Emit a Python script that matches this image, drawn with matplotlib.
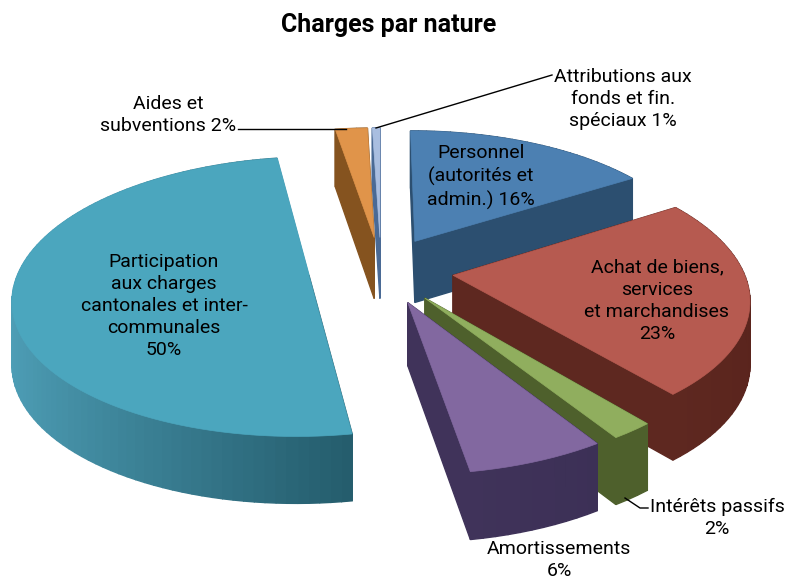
import numpy as np
import matplotlib
matplotlib.use('Agg')
import matplotlib.pyplot as plt
from matplotlib.patches import Polygon
from matplotlib.colors import to_rgb

plt.rcParams['font.family'] = ['Roboto', 'DejaVu Sans']

# slices clockwise from the top, shares
names = ['Personnel', 'Achat', 'Interets', 'Amortissements', 'Participation', 'Aides', 'Attributions']
values = [16, 23, 2, 6.4, 50, 2.1, 0.5]
top_colors = ['#4C80B2', '#B65A50', '#90AE5E', '#8268A0', '#4BA6BE', '#E0944A', '#A9BEE0']
side_left = ['#2C4F70', '#5E2820', '#4E602C', '#40335A', '#4FA0B8', '#85531F', '#4A6A95']
side_right = ['#2C4F70', '#5A241D', '#4E602C', '#3C3056', '#245C6C', '#85531F', '#4A6A95']
draw_order = [6, 5, 0, 4, 1, 2, 3]

# projection of the pie, in pixels
CX, CY = 381, 270
A, B = 290, 135
P = 0.15
DEPTH = 62
EXPLODE = 0.25


def project(x, y, z=0):
    s = 1 / (1 + P * y)
    return CX + A * x * s, CY - B * y * s + z * DEPTH * s ** 0.45


def blend(c1, c2, t):
    c1, c2 = np.array(to_rgb(c1)), np.array(to_rgb(c2))
    return tuple(c1 + (c2 - c1) * t)


fig = plt.figure(figsize=(7.86, 5.79), dpi=100)
ax = fig.add_axes([0, 0, 1, 1])
ax.set_xlim(0, 786)
ax.set_ylim(579, 0)
ax.axis('off')

edges = np.cumsum([0] + values) / sum(values) * 2 * np.pi

for i in draw_order:
    a0, a1 = edges[i], edges[i + 1]
    mid = (a0 + a1) / 2
    ox, oy = EXPLODE * np.sin(mid), EXPLODE * np.cos(mid)
    t = np.linspace(a0, a1, max(4, int(values[i] * 2)))
    rx, ry = ox + np.sin(t), oy + np.cos(t)

    # side faces, far ones first
    faces = []
    for k in range(len(t) - 1):
        quad = [project(rx[k], ry[k]), project(rx[k + 1], ry[k + 1]),
                project(rx[k + 1], ry[k + 1], 1), project(rx[k], ry[k], 1)]
        frac = ((rx[k] + rx[k + 1]) / 2 - rx.min()) / (rx.max() - rx.min())
        faces.append(((ry[k] + ry[k + 1]) / 2, quad, blend(side_left[i], side_right[i], frac)))
    for end in (0, -1):
        quad = [project(ox, oy), project(rx[end], ry[end]),
                project(rx[end], ry[end], 1), project(ox, oy, 1)]
        faces.append(((oy + ry[end]) / 2, quad, side_left[i] if end else side_right[i]))
    faces.sort(key=lambda f: -f[0])
    for _, quad, col in faces:
        ax.add_patch(Polygon(quad, closed=True, fc=col, ec=col, lw=1))

    top = [project(ox, oy)] + [project(x, y) for x, y in zip(rx, ry)]
    ax.add_patch(Polygon(top, closed=True, fc=top_colors[i], ec=top_colors[i], lw=0.5))

# leader lines
ax.plot([238, 346], [129, 129], color='black', lw=1)
ax.plot([552, 376], [75, 128], color='black', lw=1)
ax.plot([625, 640, 648], [498, 508, 508], color='black', lw=1)

ax.text(389, 25, 'Charges par nature', ha='center', va='center', fontsize=18, fontweight='bold')
lab = dict(ha='center', va='center', fontsize=14, color='black', linespacing=1.3)
ax.text(168, 115, 'Aides et\nsubventions 2%', **lab)
ax.text(623, 99, 'Attributions aux\nfonds et fin.\nspéciaux 1%', **lab)
ax.text(481, 177, 'Personnel\n(autorités et\nadmin.) 16%', **lab)
ax.text(657, 301, 'Achat de biens,\nservices\net marchandises\n23%', **lab)
ax.text(164, 306, 'Participation\naux charges\ncantonales et inter-\ncommunales\n50%', **lab)
ax.text(717, 518, 'Intérêts passifs\n2%', **lab)
ax.text(559, 560, 'Amortissements\n6%', **lab)

fig.savefig('out.png', dpi=100)
